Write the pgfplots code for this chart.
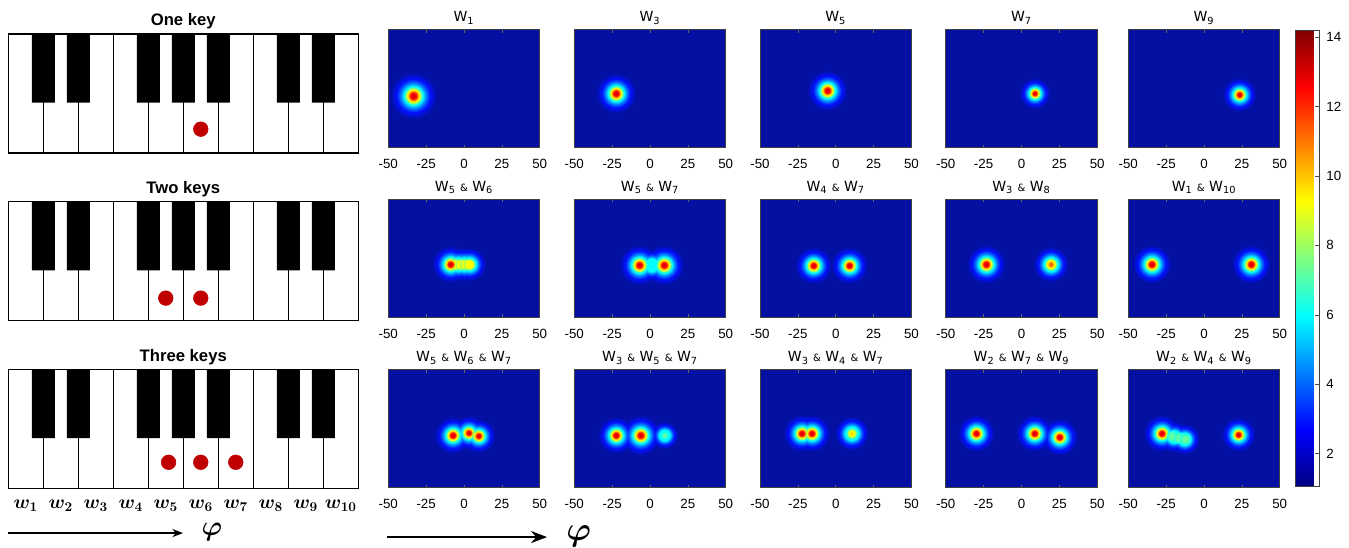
\documentclass[border=0pt]{standalone}
\usepackage{fontspec}
\setmainfont{Liberation Sans}
\newfontfamily\djv{DejaVu Sans}
\usepackage{pgfplots}
\pgfplotsset{compat=1.18}
\usetikzlibrary{arrows.meta,fadings}

\definecolor{bgblue}{RGB}{3,16,162}
\definecolor{keyred}{RGB}{192,0,0}

% layers of a jet coloured spot (25bp = node radius)
\pgfdeclareradialshading{jglow}{\pgfpointorigin}{rgb(0bp)=(0,1,1); rgb(10bp)=(0,1,1); rgb(13.5bp)=(0,0.5,1); rgb(18bp)=(0,0.05,1); rgb(25bp)=(0.012,0.063,0.635); rgb(50bp)=(0.012,0.063,0.635)}
\pgfdeclareradialshading{jmidA}{\pgfpointorigin}{rgb(0bp)=(1,1,0); rgb(15bp)=(1,1,0); rgb(20bp)=(0.5,1,0.5); rgb(25bp)=(0,1,1); rgb(50bp)=(0,1,1)}
\pgfdeclareradialshading{jmidC}{\pgfpointorigin}{rgb(0bp)=(1,1,0); rgb(9bp)=(1,1,0); rgb(18bp)=(0.5,1,0.5); rgb(25bp)=(0,1,1); rgb(50bp)=(0,1,1)}
\pgfdeclareradialshading{jmidD}{\pgfpointorigin}{rgb(0bp)=(0.4,1,0.6); rgb(8bp)=(0.4,1,0.6); rgb(25bp)=(0,1,1); rgb(50bp)=(0,1,1)}
\pgfdeclareradialshading{jcoreA}{\pgfpointorigin}{rgb(0bp)=(0.78,0,0); rgb(10bp)=(1,0,0); rgb(18bp)=(1,0.5,0); rgb(25bp)=(1,1,0); rgb(50bp)=(1,1,0)}
\pgfdeclareradialshading{jcoreB}{\pgfpointorigin}{rgb(0bp)=(1,0.3,0); rgb(12bp)=(1,0.5,0); rgb(25bp)=(1,1,0); rgb(50bp)=(1,1,0)}
\pgfdeclareradialshading{jcoreC}{\pgfpointorigin}{rgb(0bp)=(1,0.75,0); rgb(25bp)=(1,1,0); rgb(50bp)=(1,1,0)}
\pgfdeclareradialshading{fmidsh}{\pgfpointorigin}{color(0bp)=(white); color(17bp)=(white); color(25bp)=(black); color(50bp)=(black)}
\pgfdeclarefading{fmid}{\pgfuseshading{fmidsh}}
\pgfdeclareradialshading{fcoresh}{\pgfpointorigin}{color(0bp)=(white); color(15bp)=(white); color(25bp)=(black); color(50bp)=(black)}
\pgfdeclarefading{fcore}{\pgfuseshading{fcoresh}}

\pgfplotsset{
  hm/.style={scale only axis, width=113.6pt, height=88.9pt,
    xmin=-50, xmax=50, ymin=-39, ymax=39,
    xtick={-50,-25,0,25,50}, ytick=\empty,
    axis background/.style={fill=bgblue},
    tick align=inside, major tick length=2.5pt,
    tick style={black!60, line width=0.5pt},
    axis line style={black!75, line width=0.6pt},
    xticklabel style={font=\fontsize{10}{12}\selectfont, yshift=-5pt},
    /pgf/number format/assume math mode=true,
    title style={font=\djv\fontsize{10.5}{12}\selectfont, at={(0.5,1)}, anchor=base, yshift=-0.5pt, inner sep=0pt}},
  kb/.style={scale only axis, width=262.5pt, height=89.25pt,
    xmin=0, xmax=10, ymin=-1, ymax=0, xtick=\empty, ytick=\empty,
    axis on top, axis line style={line width=1pt},
    title style={font=\bfseries\fontsize{12.5}{15}\selectfont, at={(0.5,1)}, anchor=base, yshift=0pt, inner sep=0pt}},
  blob/.style n args={3}{draw=none, mark=none, nodes near coords={},
    every node near coord/.style={anchor=center, circle, inner sep=0pt, outer sep=0pt, draw=none,
      minimum size=#1, shade, shading=#2, #3}},
}

\newcommand\spotG[3]{\addplot[blob={#3}{jglow}{blend mode=lighten}] coordinates {(#1,#2)};}
\newcommand\spotM[4]{\addplot[blob={#3}{#4}{path fading=fmid}] coordinates {(#1,#2)};}
\newcommand\spotC[4]{\addplot[blob={#3}{#4}{path fading=fcore}] coordinates {(#1,#2)};}
\newcommand\W[1]{W\textsubscript{#1}}
\newcommand\am{{\fontsize{7.5}{9}\selectfont\&}}

\newcommand\keys[1]{%
  \addplot[ycomb, black, line width=0.7pt, mark=none] coordinates {(1,-1)(2,-1)(3,-1)(4,-1)(5,-1)(6,-1)(7,-1)(8,-1)(9,-1)};
  \addplot[ybar, bar width=0.657, bar shift=0pt, fill=black, draw=none] coordinates {(1,-0.577)(2,-0.577)(4,-0.577)(5,-0.577)(6,-0.577)(8,-0.577)(9,-0.577)};
  \addplot[only marks, mark=*, mark size=5.5pt, keyred] coordinates {#1};
}

\begin{document}
\begin{tikzpicture}
\path[use as bounding box] (0,0) rectangle (1011.75pt,-411pt);

% keyboards
\begin{axis}[kb, at={(6.2pt,-25.5pt)}, anchor=north west, title={One key}]
\keys{(5.5,-0.8)}
\end{axis}
\begin{axis}[kb, at={(6.2pt,-151.3pt)}, anchor=north west, title={Two keys}]
\keys{(4.5,-0.81)(5.5,-0.81)}
\end{axis}
\begin{axis}[kb, at={(6.2pt,-277.1pt)}, anchor=north west, title={Three keys},
  xtick={0.5,1.5,2.5,3.5,4.5,5.5,6.5,7.5,8.5,9.5},
  xticklabels={$w_1$,$w_2$,$w_3$,$w_4$,$w_5$,$w_6$,$w_7$,$w_8$,$w_9$,$w_{10}$},
  major tick length=0pt, xticklabel style={font=\boldmath\fontsize{14.5}{17}\selectfont, yshift=-5pt}]
\keys{(4.58,-0.78)(5.5,-0.78)(6.5,-0.78)}
\end{axis}

% row 1
\begin{axis}[hm, at={(291.2pt,-22pt)}, anchor=north west, title={\W{1}}]
\spotG{-33.5}{-4.7}{35pt}
\spotM{-33.5}{-4.7}{15.2pt}{jmidA}
\spotC{-33.5}{-4.7}{10pt}{jcoreA}
\end{axis}
\begin{axis}[hm, at={(430.7pt,-22pt)}, anchor=north west, title={\W{3}}]
\spotG{-22.5}{-3.1}{30pt}
\spotM{-22.5}{-3.1}{13pt}{jmidA}
\spotC{-22.5}{-3.1}{8.6pt}{jcoreA}
\end{axis}
\begin{axis}[hm, at={(570pt,-22pt)}, anchor=north west, title={\W{5}}]
\spotG{-5.6}{-1.2}{30pt}
\spotM{-5.6}{-1.2}{13pt}{jmidA}
\spotC{-5.6}{-1.2}{8.6pt}{jcoreA}
\end{axis}
\begin{axis}[hm, at={(709.3pt,-22pt)}, anchor=north west, title={\W{7}}]
\spotG{8.7}{-3.1}{23pt}
\spotM{8.7}{-3.1}{9.9pt}{jmidA}
\spotC{8.7}{-3.1}{6.5pt}{jcoreA}
\end{axis}
\begin{axis}[hm, at={(846.2pt,-22pt)}, anchor=north west, title={\W{9}}]
\spotG{23.3}{-3.9}{25.5pt}
\spotM{23.3}{-3.9}{11pt}{jmidA}
\spotC{23.3}{-3.9}{7.2pt}{jcoreA}
\end{axis}

% row 2
\begin{axis}[hm, at={(291.2pt,-149.25pt)}, anchor=north west, title={\W{5} \am{} \W{6}}]
\spotG{-9}{-3.9}{27.5pt}
\spotG{-4}{-3.9}{25pt}
\spotG{0}{-3.9}{25pt}
\spotG{3.5}{-3.9}{25pt}
\spotM{-9}{-3.9}{11.9pt}{jmidA}
\spotM{-5.5}{-3.9}{10pt}{jmidA}
\spotM{-2}{-3.9}{10pt}{jmidA}
\spotM{1}{-3.9}{10pt}{jmidA}
\spotM{3.5}{-3.9}{10pt}{jmidA}
\spotC{-9}{-3.9}{7.8pt}{jcoreA}
\end{axis}
\begin{axis}[hm, at={(430.7pt,-149.25pt)}, anchor=north west, title={\W{5} \am{} \W{7}}]
\spotG{-7.1}{-4.4}{30pt}
\spotG{1}{-4.4}{24pt}
\spotG{9.2}{-4.4}{30pt}
\spotM{-7.1}{-4.4}{13pt}{jmidA}
\spotM{9.2}{-4.4}{13pt}{jmidA}
\spotC{-7.1}{-4.4}{8.6pt}{jcoreA}
\spotC{9.2}{-4.4}{8.6pt}{jcoreA}
\end{axis}
\begin{axis}[hm, at={(570pt,-149.25pt)}, anchor=north west, title={\W{4} \am{} \W{7}}]
\spotG{-14.8}{-4.7}{27.5pt}
\spotG{8.9}{-4.7}{27.5pt}
\spotM{-14.8}{-4.7}{11.9pt}{jmidA}
\spotM{8.9}{-4.7}{11.9pt}{jmidA}
\spotC{-14.8}{-4.7}{7.8pt}{jcoreA}
\spotC{8.9}{-4.7}{7.8pt}{jcoreA}
\end{axis}
\begin{axis}[hm, at={(709.3pt,-149.25pt)}, anchor=north west, title={\W{3} \am{} \W{8}}]
\spotG{-23.4}{-3.9}{29pt}
\spotG{19.3}{-3.9}{26.5pt}
\spotM{-23.4}{-3.9}{12.5pt}{jmidA}
\spotM{19.3}{-3.9}{10.7pt}{jmidA}
\spotC{-23.4}{-3.9}{8.2pt}{jcoreA}
\spotC{19.3}{-3.9}{5.9pt}{jcoreB}
\end{axis}
\begin{axis}[hm, at={(846.2pt,-149.25pt)}, anchor=north west, title={\W{1} \am{} \W{10}}]
\spotG{-34.6}{-3.9}{29pt}
\spotG{31}{-3.9}{29pt}
\spotM{-34.6}{-3.9}{12.5pt}{jmidA}
\spotM{31}{-3.9}{12.5pt}{jmidA}
\spotC{-34.6}{-3.9}{8.2pt}{jcoreA}
\spotC{31}{-3.9}{8.2pt}{jcoreA}
\end{axis}

% row 3
\begin{axis}[hm, at={(291.2pt,-277pt)}, anchor=north west, title={\W{5} \am{} \W{6} \am{} \W{7}}]
\spotG{-7.5}{-4.3}{27.5pt}
\spotG{3}{-2.7}{25.5pt}
\spotG{9.5}{-4.7}{25.5pt}
\spotM{-7.5}{-4.3}{11.9pt}{jmidA}
\spotM{3}{-2.7}{11pt}{jmidA}
\spotM{9.5}{-4.7}{11pt}{jmidA}
\spotC{-7.5}{-4.3}{7.8pt}{jcoreA}
\spotC{3}{-2.7}{7.2pt}{jcoreA}
\spotC{9.5}{-4.7}{7.2pt}{jcoreA}
\end{axis}
\begin{axis}[hm, at={(430.7pt,-277pt)}, anchor=north west, title={\W{3} \am{} \W{5} \am{} \W{7}}]
\spotG{-22.5}{-4.3}{27.5pt}
\spotG{-6.3}{-4.3}{30pt}
\spotG{9.5}{-4.3}{20.5pt}
\spotM{-22.5}{-4.3}{11.9pt}{jmidA}
\spotM{-6.3}{-4.3}{13pt}{jmidA}
\spotM{9.5}{-4.3}{6pt}{jmidD}
\spotC{-22.5}{-4.3}{7.8pt}{jcoreA}
\spotC{-6.3}{-4.3}{8.6pt}{jcoreA}
\end{axis}
\begin{axis}[hm, at={(570pt,-277pt)}, anchor=north west, title={\W{3} \am{} \W{4} \am{} \W{7}}]
\spotG{-22.5}{-3.1}{27.5pt}
\spotG{-15.9}{-3.1}{27.5pt}
\spotG{10.5}{-3.1}{25.5pt}
\spotM{-22.5}{-3.1}{11.9pt}{jmidA}
\spotM{-15.9}{-3.1}{11.9pt}{jmidA}
\spotM{10.5}{-3.1}{9.4pt}{jmidC}
\spotC{-22.5}{-3.1}{7.8pt}{jcoreA}
\spotC{-15.9}{-3.1}{7.8pt}{jcoreA}
\spotC{10.5}{-3.1}{3.7pt}{jcoreC}
\end{axis}
\begin{axis}[hm, at={(709.3pt,-277pt)}, anchor=north west, title={\W{2} \am{} \W{7} \am{} \W{9}}]
\spotG{-30}{-3.1}{27.5pt}
\spotG{8.5}{-3.1}{27.5pt}
\spotG{25}{-5.5}{27.5pt}
\spotM{-30}{-3.1}{11.9pt}{jmidA}
\spotM{8.5}{-3.1}{11.9pt}{jmidA}
\spotM{25}{-5.5}{11.9pt}{jmidA}
\spotC{-30}{-3.1}{7.8pt}{jcoreA}
\spotC{8.5}{-3.1}{7.8pt}{jcoreA}
\spotC{25}{-5.5}{7.8pt}{jcoreA}
\end{axis}
\begin{axis}[hm, at={(846.2pt,-277pt)}, anchor=north west, title={\W{2} \am{} \W{4} \am{} \W{9}}]
\spotG{-28}{-3.1}{27.5pt}
\spotG{-20}{-5.3}{23pt}
\spotG{-13}{-6.8}{23pt}
\spotG{22.6}{-3.9}{25.5pt}
\spotM{-28}{-3.1}{11.9pt}{jmidA}
\spotM{-21}{-5}{10pt}{jmidD}
\spotM{-16.5}{-6}{10pt}{jmidD}
\spotM{-12.5}{-6.8}{10pt}{jmidD}
\spotM{22.6}{-3.9}{11pt}{jmidA}
\spotC{-28}{-3.1}{7.8pt}{jcoreA}
\spotC{22.6}{-3.9}{7.2pt}{jcoreA}
\end{axis}

% colour scale
\begin{axis}[at={(971.25pt,-23pt)}, anchor=north west, scale only axis, width=18pt, height=342pt,
  hide axis, colormap/jet, point meta min=1.04, point meta max=14.19, colorbar,
  colorbar shift/.style={xshift=0pt},
  colorbar style={at={(parent axis.north west)}, anchor=north west, width=18pt, height=342pt,
    ytick={2,4,6,8,10,12,14}, ytick pos=right, yticklabel pos=right, ytick align=inside,
    major tick length=3pt, tick style={black!70}, axis line style={black!75, line width=0.6pt},
    yticklabel style={font=\fontsize{10}{12}\selectfont, xshift=2pt},
    /pgf/number format/assume math mode=true}]
\addplot[draw=none] coordinates {(0,0)(1,1)};
\end{axis}

% direction arrows
\draw[line width=1.3pt, -{Stealth[length=8pt,width=6pt]}] (6.3pt,-399.8pt) -- (137.3pt,-399.8pt);
\node[font=\boldmath\fontsize{21}{24}\selectfont] at (159pt,-399pt) {$\varphi$};
\draw[line width=2pt, -{Stealth[length=12pt,width=9pt]}] (290.3pt,-402.8pt) -- (410.3pt,-402.8pt);
\node[font=\boldmath\fontsize{25}{28}\selectfont] at (434pt,-402pt) {$\varphi$};
\end{tikzpicture}
\end{document}
